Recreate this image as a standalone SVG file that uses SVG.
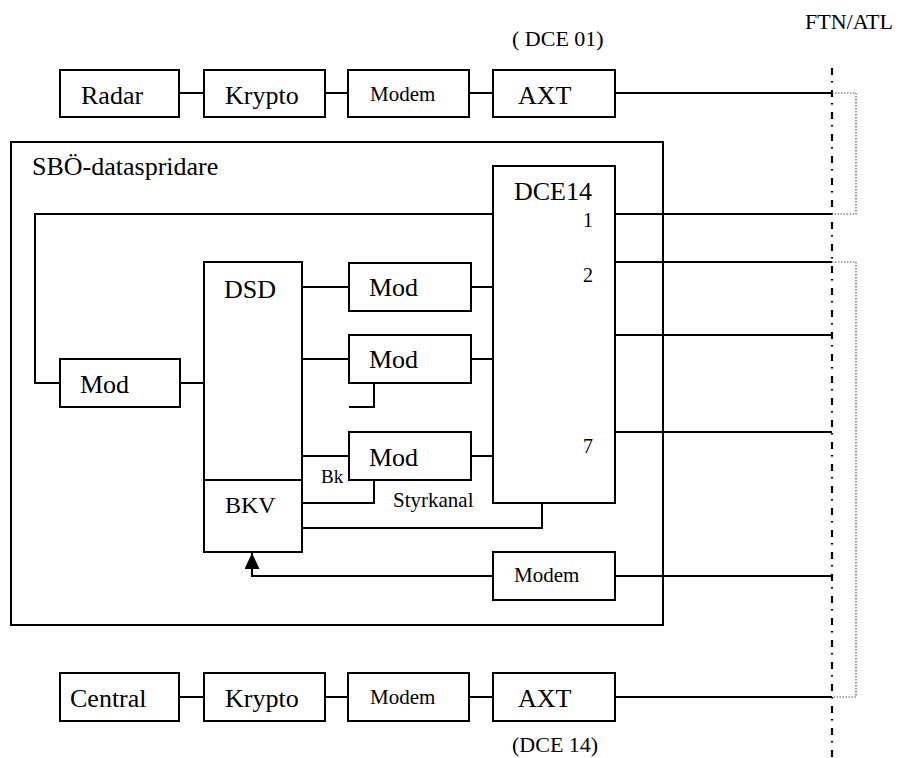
<svg xmlns="http://www.w3.org/2000/svg" width="903" height="758" viewBox="0 0 903 758">
<style>
.b{fill:#fff;stroke:#000;stroke-width:2}
.w{fill:none;stroke:#000;stroke-width:2}
.t{font-family:"Liberation Serif","Times New Roman",serif;fill:#000}
.L{font-size:26px}
.M{font-size:21px}
.S{font-size:20px}
.dd{fill:none;stroke:#000;stroke-width:2.2;stroke-dasharray:7 6 1.5 7.5}
.dot{fill:none;stroke:#555;stroke-width:1.2;stroke-dasharray:1.5 1.5}
</style>
<defs>
<marker id="ah" markerWidth="16" markerHeight="15" refX="16" refY="7.5" orient="auto" markerUnits="userSpaceOnUse" viewBox="0 0 16 15">
<path d="M0,0 L16,7.5 L0,15 Z" fill="#000"/>
</marker>
</defs>
<rect fill="#fff" width="903" height="758"/>
<g id="labels">
<text class="t" x="805" y="29" style="font-size:22px">FTN/ATL</text>
<text class="t" x="512" y="46" style="font-size:22px">( DCE 01)</text>
<text class="t" x="512" y="752" style="font-size:22px">(DCE 14)</text>
</g>
<g id="sbo">
<rect x="11" y="142" width="652" height="483" fill="none" stroke="#000" stroke-width="2"/>
<text class="t L" x="32" y="175">SBÖ-dataspridare</text>
</g>
<g id="connectors">
<path class="w" d="M179,93H204M325,93H348M469,93H493M615,93H832"/>
<path class="w" d="M179,697H204M325,697H348M469,697H493M615,697H832"/>
<path class="w" d="M493,214H35V383H60"/>
<path class="w" d="M180,383H204"/>
<path class="w" d="M302,287H349M471,287H493"/>
<path class="w" d="M302,359H349M471,359H493"/>
<path class="w" d="M374,383V407H349"/>
<path class="w" d="M302,456H349M471,456H493"/>
<path class="w" d="M374,480V503H302"/>
<path class="w" d="M302,528H542V503"/>
<path class="w" d="M493,576H252V553" marker-end="url(#ah)"/>
<path class="w" d="M615,576H832"/>
<path class="w" d="M615,214H832M615,262H832M615,335H832M615,432H832"/>
<path class="dd" d="M832,68V758"/>
<path class="dot" d="M832,93H856V214H832"/>
<path class="dot" d="M832,262H856V697H832"/>
</g>
<g id="radar"><rect class="b" x="60" y="70" width="119" height="47"/><text class="t L" x="81" y="104">Radar</text></g>
<g id="krypto1"><rect class="b" x="204" y="70" width="121" height="47"/><text class="t L" x="225" y="104">Krypto</text></g>
<g id="modem1"><rect class="b" x="348" y="70" width="121" height="47"/><text class="t M" x="370" y="101">Modem</text></g>
<g id="axt1"><rect class="b" x="493" y="70" width="122" height="47"/><text class="t L" x="518" y="104">AXT</text></g>
<g id="central"><rect class="b" x="60" y="673" width="119" height="48"/><text class="t L" x="70" y="707">Central</text></g>
<g id="krypto2"><rect class="b" x="204" y="673" width="121" height="48"/><text class="t L" x="225" y="707">Krypto</text></g>
<g id="modem2"><rect class="b" x="348" y="673" width="121" height="48"/><text class="t M" x="370" y="704">Modem</text></g>
<g id="axt2"><rect class="b" x="493" y="673" width="122" height="48"/><text class="t L" x="518" y="707">AXT</text></g>
<g id="dce14"><rect class="b" x="493" y="166" width="122" height="337"/>
<text class="t L" x="514" y="200">DCE14</text>
<text class="t S" x="583" y="227">1</text>
<text class="t S" x="583" y="282">2</text>
<text class="t S" x="583" y="453">7</text></g>
<g id="mod-left"><rect class="b" x="60" y="359" width="120" height="48"/><text class="t L" x="80" y="393">Mod</text></g>
<g id="dsd"><rect class="b" x="204" y="262" width="98" height="290"/><path class="w" d="M204,480H302"/>
<text class="t L" x="224" y="298">DSD</text>
<text class="t" x="225" y="513" style="font-size:24px">BKV</text></g>
<g id="mod1"><rect class="b" x="349" y="263" width="122" height="48"/><text class="t L" x="369" y="296">Mod</text></g>
<g id="mod2"><rect class="b" x="349" y="335" width="122" height="48"/><text class="t L" x="369" y="368">Mod</text></g>
<g id="mod3"><rect class="b" x="349" y="432" width="122" height="48"/><text class="t L" x="369" y="466">Mod</text></g>
<g id="bk"><text class="t" x="321" y="483" style="font-size:19px">Bk</text></g>
<g id="styrkanal"><text class="t" x="393" y="507" style="font-size:21px">Styrkanal</text></g>
<g id="modem-in"><rect class="b" x="493" y="552" width="122" height="48"/><text class="t M" x="514" y="582">Modem</text></g>
</svg>
